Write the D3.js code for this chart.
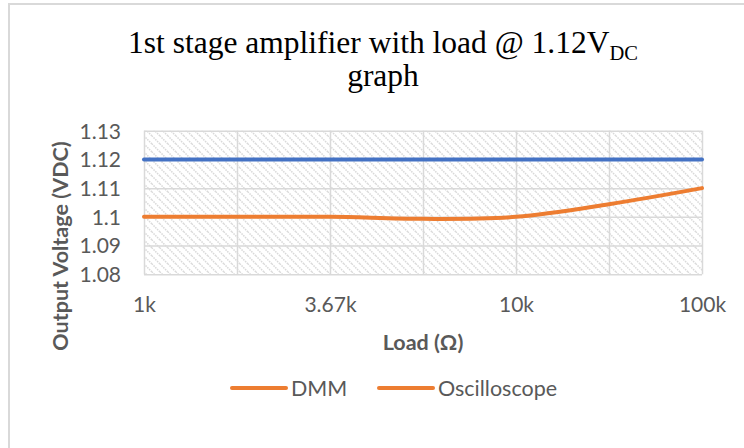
<!DOCTYPE html>
<html><head><meta charset="utf-8">
<script src="https://cdn.jsdelivr.net/npm/d3@7"></script>
<style>body{margin:0;background:#fff}svg{display:block}</style></head>
<body>
<svg id="c" width="744" height="448"></svg>
<script>
const categories = ["1k","2.2k","3.67k","4.7k","10k","47k","100k"];
const xTickLabels = ["1k","","3.67k","","10k","","100k"];
const dmmValues = [1.12,1.12,1.12,1.12,1.12,1.12,1.12];
const scopeValues = [1.1,1.1,1.1,1.0993,1.1,1.1044,1.11];
const yTicks = [1.08,1.09,1.10,1.11,1.12,1.13];
const yTickLabels = ["1.08","1.09","1.1","1.11","1.12","1.13"];
const seriesNames = ["DMM","Oscilloscope"];
const legendColors = ["#ED7D31","#ED7D31"];
const lineColors = ["#4472C4","#ED7D31"];

const svg = d3.select("#c");
const L = 144, R = 702, T = 130.7, B = 274.3;
const x = d3.scalePoint(categories, [L, R]);
const y = d3.scaleLinear([1.08, 1.13], [B, T]);
const font = "Lato, 'Open Sans', sans-serif";
const grey = "#595959";

// frame
svg.append("line").attr("x1",9).attr("x2",9).attr("y1",3).attr("y2",448).attr("stroke","#d9d9d9").attr("stroke-width",2);
svg.append("line").attr("x1",8).attr("x2",744).attr("y1",4).attr("y2",4).attr("stroke","#d9d9d9").attr("stroke-width",2);

// hatch pattern
const defs = svg.append("defs");
const pat = defs.append("pattern").attr("id","hatch").attr("patternUnits","userSpaceOnUse")
  .attr("width",8).attr("height",8);
pat.append("path").attr("d","M-2,-2 L10,10 M-2,6 L2,10 M6,-2 L10,2")
  .attr("stroke","#d9d9d9").attr("stroke-width",1.5).attr("stroke-dasharray","1.5,1");
svg.append("rect").attr("x",L).attr("y",T).attr("width",R-L).attr("height",B-T).attr("fill","url(#hatch)");

// gridlines
const gy = svg.append("g").attr("transform",`translate(${L},0)`)
  .call(d3.axisLeft(y).tickValues(yTicks).tickSize(-(R-L)).tickFormat(""));
gy.select(".domain").remove();
gy.selectAll("line").attr("stroke","#d9d9d9").attr("stroke-width",1.5);
const gx = svg.append("g").attr("transform",`translate(0,${B})`)
  .call(d3.axisBottom(x).tickSize(-(B-T)).tickFormat(""));
gx.select(".domain").remove();
gx.selectAll("line").attr("stroke","#d9d9d9").attr("stroke-width",1.5);

// y tick labels
const ya = svg.append("g").attr("transform",`translate(${L-23},0)`)
  .call(d3.axisLeft(y).tickValues(yTicks).tickSize(0).tickPadding(0)
    .tickFormat((d,i)=>yTickLabels[i]));
ya.select(".domain").remove();
ya.selectAll("text").attr("font-family",font).attr("font-size",21).attr("fill",grey).attr("dy","0.35em");

// x tick labels
const xa = svg.append("g").attr("transform",`translate(0,${B})`)
  .call(d3.axisBottom(x).tickSize(0).tickPadding(0).tickFormat((d,i)=>xTickLabels[i]));
xa.select(".domain").remove();
xa.selectAll("text").attr("font-family",font).attr("font-size",21).attr("fill",grey)
  .attr("dy",null).attr("y",38);

// lines
const line = d3.line().x((d,i)=>x(categories[i])).y(d=>y(d)).curve(d3.curveCatmullRom.alpha(0));
[dmmValues, scopeValues].forEach((vals,k)=>{
  svg.append("path").datum(vals).attr("d",line).attr("fill","none")
    .attr("stroke",lineColors[k]).attr("stroke-width",4).attr("stroke-linecap","round");
});

// axis titles
svg.append("text").attr("x",(L+R)/2).attr("y",350).attr("text-anchor","middle")
  .attr("font-family",font).attr("font-weight","bold").attr("font-size",21.5).attr("fill",grey).text("Load (Ω)");
svg.append("text").attr("transform","translate(68,246) rotate(-90)").attr("text-anchor","middle")
  .attr("font-family",font).attr("font-weight","bold").attr("font-size",21.5).attr("fill",grey).text("Output Voltage (VDC)");

// title
const tfont = "'Liberation Serif','Times New Roman',serif";
const t1 = svg.append("text").attr("x",383).attr("y",53).attr("text-anchor","middle")
  .attr("font-family",tfont).attr("font-size",31.5).attr("fill","#000");
t1.append("tspan").text("1st stage amplifier with load @ 1.12V");
t1.append("tspan").attr("font-size",20.5).attr("dy",7).text("DC");
svg.append("text").attr("x",383).attr("y",86).attr("text-anchor","middle")
  .attr("font-family",tfont).attr("font-size",31.5).attr("fill","#000").text("graph");

// legend
const legX = [232, 379];
seriesNames.forEach((n,i)=>{
  const g = svg.append("g").attr("transform",`translate(${legX[i]},388)`);
  g.append("line").attr("x1",0).attr("x2",54).attr("stroke",legendColors[i]).attr("stroke-width",4).attr("stroke-linecap","round");
  g.append("text").attr("x",59).attr("dy","0.35em").attr("font-family",font).attr("font-size",21.5).attr("fill",grey).text(n);
});
</script>
</body></html>
